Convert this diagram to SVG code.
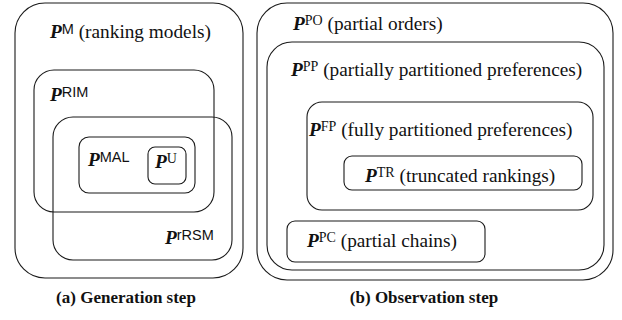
<svg xmlns="http://www.w3.org/2000/svg" width="622" height="320" viewBox="0 0 622 320">
<style>
.box{fill:none;stroke:#1a1a1a;stroke-width:1.1}
.lbl{font-family:'Liberation Serif','Times New Roman',serif;font-size:19.3px;fill:#111}
.P{font-weight:bold;font-style:italic}
.sups{font-family:'Liberation Sans',Arial,sans-serif;font-size:14.5px}
.supr{font-size:14px}
.cap{font-family:'Liberation Serif','Times New Roman',serif;font-weight:bold;font-size:17px;fill:#111;text-anchor:middle}
</style>
<rect width="622" height="320" fill="#fff"/>
<g id="gen">
<g id="PM"><rect class="box" x="15" y="3" width="228" height="275" rx="30"/>
<text class="lbl" x="50" y="38"><tspan class="P">P</tspan><tspan class="sups" dy="-4">M</tspan><tspan dy="4"> (ranking models)</tspan></text></g>
<g id="PRIM"><rect class="box" x="34" y="70" width="180" height="142" rx="20"/>
<text class="lbl" x="50" y="101"><tspan class="P">P</tspan><tspan class="sups" dy="-4">RIM</tspan></text></g>
<g id="PrRSM"><rect class="box" x="53" y="117" width="179" height="143" rx="20"/>
<text class="lbl" x="165" y="244"><tspan class="P">P</tspan><tspan class="sups" dy="-4">rRSM</tspan></text></g>
<g id="PMAL"><rect class="box" x="79" y="137" width="116" height="56" rx="10"/>
<text class="lbl" x="88" y="166"><tspan class="P">P</tspan><tspan class="sups" dy="-4">MAL</tspan></text></g>
<g id="PU"><rect class="box" x="148" y="147" width="38" height="37" rx="7"/>
<text class="lbl" x="155" y="168"><tspan class="P">P</tspan><tspan class="supr" dy="-5">U</tspan></text></g>
<text class="cap" x="126" y="303">(a) Generation step</text>
</g>
<g id="obs">
<g id="PPO"><rect class="box" x="257" y="3" width="356" height="277" rx="30"/>
<text class="lbl" x="293" y="30"><tspan class="P">P</tspan><tspan class="supr" dy="-5">PO</tspan><tspan dy="5"> (partial orders)</tspan></text></g>
<g id="PPP"><rect class="box" x="267" y="42" width="337" height="228" rx="25"/>
<text class="lbl" x="291" y="76"><tspan class="P">P</tspan><tspan class="supr" dy="-5">PP</tspan><tspan dy="5"> (partially partitioned preferences)</tspan></text></g>
<g id="PFP"><rect class="box" x="307" y="102" width="286" height="108" rx="15"/>
<text class="lbl" x="309" y="136"><tspan class="P">P</tspan><tspan class="supr" dy="-5">FP</tspan><tspan dy="5"> (fully partitioned preferences)</tspan></text></g>
<g id="PTR"><rect class="box" x="344" y="156" width="238" height="34" rx="8"/>
<text class="lbl" x="365" y="182"><tspan class="P">P</tspan><tspan class="supr" dy="-5">TR</tspan><tspan dy="5"> (truncated rankings)</tspan></text></g>
<g id="PPC"><rect class="box" x="287" y="221" width="198" height="41" rx="8"/>
<text class="lbl" x="307" y="247"><tspan class="P">P</tspan><tspan class="supr" dy="-5">PC</tspan><tspan dy="5"> (partial chains)</tspan></text></g>
<text class="cap" x="424" y="303">(b) Observation step</text>
</g>
<g id="connectors"/>
</svg>
